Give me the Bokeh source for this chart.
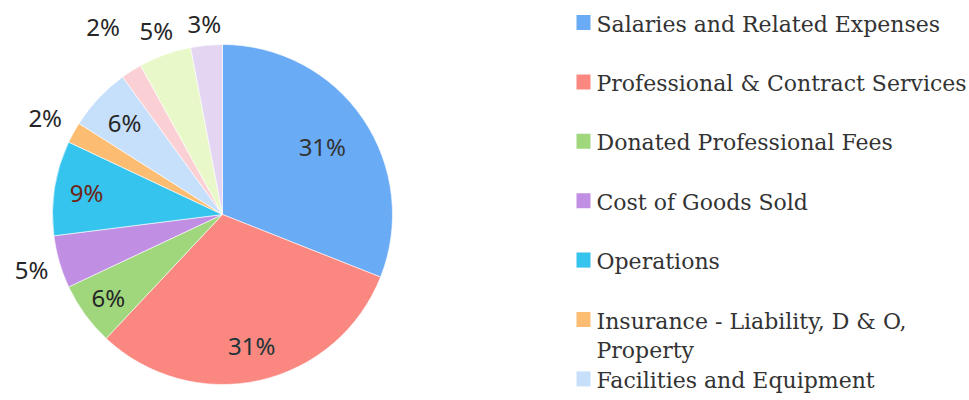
import math
from bokeh.plotting import figure
from bokeh.models import Range1d, ColumnDataSource
from bokeh.core.properties import value
from bokeh.embed import file_html
from bokeh.resources import INLINE

categories = [
    "Salaries and Related Expenses",
    "Professional & Contract Services",
    "Donated Professional Fees",
    "Cost of Goods Sold",
    "Operations",
    "Insurance - Liability, D & O,\nProperty",
    "Facilities and Equipment",
    "Other 1",
    "Other 2",
    "Other 3",
]
shares = [31, 31, 6, 5, 9, 2, 6, 2, 5, 3]
labels = ["31%", "31%", "6%", "5%", "9%", "2%", "6%", "2%", "5%", "3%"]
colors = ["#6aabf6", "#fa8880", "#a0d77c", "#c08fe4", "#35c4ee",
          "#fcbc72", "#c6dffa", "#fbd0d5", "#e9f8c8", "#e4d6f2"]
label_colors = ["#333333", "#1c3438", "#262626", "#262626", "#6e2414",
                "#262626", "#262626", "#262626", "#262626", "#262626"]
# radial position of each label, as a fraction of the radius (style)
label_rfrac = [0.71, 0.79, 0.83, 1.17, 0.81, 1.19, 0.79, 1.31, 1.15, 1.13]
legend_count = 7

W, H = 969, 400
p = figure(width=W, height=H, output_backend="svg", toolbar_location=None,
           x_range=Range1d(0, W), y_range=Range1d(0, H),
           min_border=0, outline_line_color=None)
p.axis.visible = False
p.grid.visible = False
p.background_fill_color = "white"
p.border_fill_color = "white"

cx, cy, R = 222, 186, 170
total = sum(shares)
starts, ends, lx, ly = [], [], [], []
cum = 0.0
for s, rf in zip(shares, label_rfrac):
    a0 = math.pi / 2 - 2 * math.pi * cum / total
    a1 = math.pi / 2 - 2 * math.pi * (cum + s) / total
    starts.append(a1)
    ends.append(a0)
    mid = (a0 + a1) / 2
    lx.append(cx + rf * R * math.cos(mid))
    ly.append(cy + rf * R * math.sin(mid))
    cum += s

src = ColumnDataSource(dict(start=starts, end=ends, color=colors))
p.wedge(x=cx, y=cy, radius=R, start_angle="start", end_angle="end",
        direction="anticlock", fill_color="color", line_color="white",
        line_width=0.6, source=src)

lsrc = ColumnDataSource(dict(x=lx, y=ly, t=labels, c=label_colors))
p.text(x="x", y="y", text="t", text_color="c", source=lsrc,
       text_font=value("Noto Sans"), text_font_size="24px",
       text_align="center", text_baseline="middle")

# legend (first entries only, as in the original)
row0, step, line_gap = 400 - 22, 59.4, 29
sx, sy, st, tx, ty, tt = [], [], [], [], [], []
for i in range(legend_count):
    yy = row0 - step * i
    sx.append(583)
    sy.append(yy)
    st.append(colors[i])
    for j, line in enumerate(categories[i].split("\n")):
        tx.append(596)
        ty.append(yy - 1.5 - line_gap * j)
        tt.append(line)
p.rect(x=sx, y=sy, width=14, height=15, fill_color=st, line_color=None)
p.text(x=tx, y=ty, text=tt, text_color="#333333",
       text_font=value("DejaVu Serif"), text_font_size="22px",
       text_align="left", text_baseline="middle")

open("out.html", "w").write(file_html(p, INLINE))
